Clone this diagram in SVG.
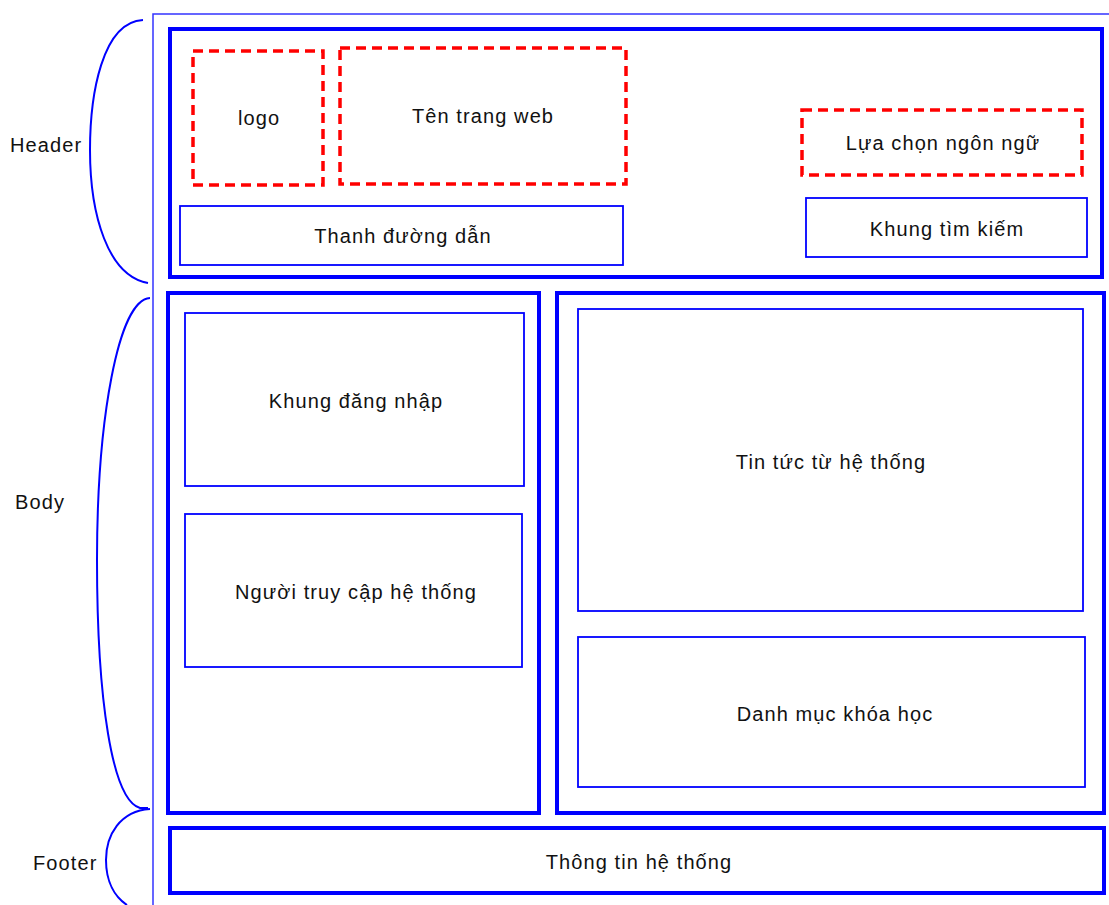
<svg xmlns="http://www.w3.org/2000/svg" width="1109" height="905" viewBox="0 0 1109 905">
  <style>
    .bg { fill: #ffffff; }
    .frame { fill: none; stroke: #3333ff; stroke-width: 1.5; }
    .brace { fill: none; stroke: #0000ff; stroke-width: 2; }
    .region { fill: none; stroke: #0000ff; stroke-width: 4; }
    .panel { fill: none; stroke: #0000ff; stroke-width: 1.8; }
    .slot { fill: none; stroke: #ff0000; stroke-width: 3.5; stroke-dasharray: 10 6; }
    text { font-family: "Liberation Sans", Arial, sans-serif; font-size: 20px; fill: #111111; letter-spacing: 1.1px; }
    .c { text-anchor: middle; }
  </style>

  <rect class="bg" x="0" y="0" width="1109" height="905"/>

  <!-- page frame and section braces -->
  <g id="connectors">
    <path class="frame" d="M153,905 V14 H1109"/>
    <path class="brace" d="M143,20 C102,22 90,95 90,150 C90,215 108,276 148,283"/>
    <path class="brace" d="M150,298 C118,300 97,420 97,560 C97,700 112,800 140,808 L148,808"/>
    <path class="brace" d="M150,809 C120,811 106,835 106,860 C106,882 115,897 127,905"/>
  </g>

  <!-- section labels -->
  <g id="label-header"><text x="10" y="152">Header</text></g>
  <g id="label-body"><text x="15" y="509">Body</text></g>
  <g id="label-footer"><text x="33" y="870">Footer</text></g>

  <!-- header -->
  <g id="header">
    <rect class="region" x="170" y="29" width="932" height="248"/>
  </g>
  <g id="logo">
    <rect class="slot" x="193" y="51" width="130" height="134"/>
    <text class="c" x="259" y="125">logo</text>
  </g>
  <g id="site-name">
    <rect class="slot" x="340" y="48" width="286" height="136"/>
    <text class="c" x="483" y="123">Tên trang web</text>
  </g>
  <g id="language">
    <rect class="slot" x="802" y="110" width="280" height="65"/>
    <text class="c" x="943" y="150">Lựa chọn ngôn ngữ</text>
  </g>
  <g id="search">
    <rect class="panel" x="806" y="198" width="281" height="59"/>
    <text class="c" x="947" y="236">Khung tìm kiếm</text>
  </g>
  <g id="breadcrumb">
    <rect class="panel" x="180" y="206" width="443" height="59"/>
    <text class="c" x="403" y="243">Thanh đường dẫn</text>
  </g>

  <!-- body, left column -->
  <g id="body-left">
    <rect class="region" x="168" y="293" width="371" height="520"/>
  </g>
  <g id="login">
    <rect class="panel" x="185" y="313" width="339" height="173"/>
    <text class="c" x="356" y="408">Khung đăng nhập</text>
  </g>
  <g id="visitors">
    <rect class="panel" x="185" y="514" width="337" height="153"/>
    <text class="c" x="356" y="599">Người truy cập hệ thống</text>
  </g>

  <!-- body, right column -->
  <g id="body-right">
    <rect class="region" x="557" y="293" width="547" height="520"/>
  </g>
  <g id="news">
    <rect class="panel" x="578" y="309" width="505" height="302"/>
    <text class="c" x="831" y="469">Tin tức từ hệ thống</text>
  </g>
  <g id="courses">
    <rect class="panel" x="578" y="637" width="507" height="150"/>
    <text class="c" x="835" y="721">Danh mục khóa học</text>
  </g>

  <!-- footer -->
  <g id="footer">
    <rect class="region" x="170" y="828" width="934" height="65"/>
    <text class="c" x="639" y="869">Thông tin hệ thống</text>
  </g>
</svg>
